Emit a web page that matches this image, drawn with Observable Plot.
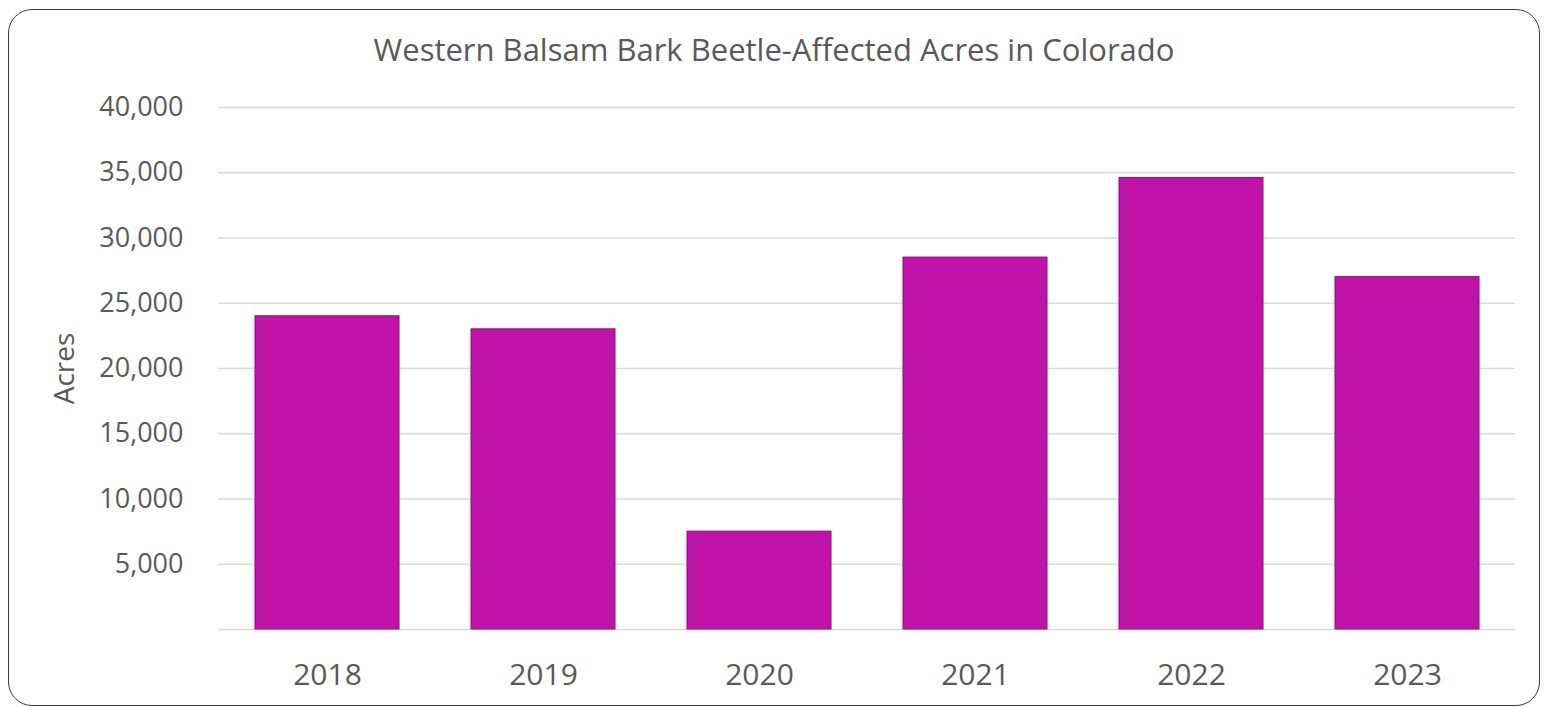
<!DOCTYPE html>
<html>
<head>
<meta charset="utf-8">
<script src="https://cdn.jsdelivr.net/npm/d3@7"></script>
<script src="https://cdn.jsdelivr.net/npm/@observablehq/plot@0.6"></script>
<style>
  html, body { margin: 0; padding: 0; background: #fff; overflow: hidden; }
  #wrap { position: relative; width: 1548px; height: 707px; font-family: "Open Sans", sans-serif; }
  #frame { position: absolute; left: 8px; top: 9px; width: 1532px; height: 697px;
           border: 1.5px solid #3c3c3c; border-radius: 24px; box-sizing: border-box; pointer-events: none; }
  #title { box-sizing: border-box; height: 86px; padding-top: 34px; text-align: center;
           font-size: 31px; line-height: 31px; color: #595959; }
  #chart svg { display: block; }
</style>
</head>
<body>
<div id="wrap">
  <div id="frame"></div>
  <div id="title">Western Balsam Bark Beetle-Affected Acres in Colorado</div>
  <div id="chart"></div>
</div>
<script>
const years = ["2018", "2019", "2020", "2021", "2022", "2023"];
const acres = [24000, 23000, 7500, 28500, 34600, 27000];
const yTicks = [5000, 10000, 15000, 20000, 25000, 30000, 35000, 40000];
const gridValues = [0, 5000, 10000, 15000, 20000, 25000, 30000, 35000, 40000];

const data = years.map((y, i) => ({year: y, value: acres[i]}));

const chart = Plot.plot({
  width: 1548,
  height: 621,
  marginLeft: 218,
  marginRight: 33,
  marginTop: 21,
  marginBottom: 78,
  style: {fontFamily: "Open Sans, sans-serif", color: "#595959", background: "transparent", overflow: "visible"},
  x: {domain: years, paddingInner: 1/3, paddingOuter: 1/6, label: null},
  y: {domain: [0, 40000], label: "Acres"},
  marks: [
    Plot.ruleY(gridValues, {stroke: "#d9d9d9", strokeWidth: 1.5}),
    Plot.barY(data, {x: "year", y: "value", fill: "#c013a8", stroke: "#8a0f78", strokeWidth: 1}),
    Plot.axisY({ticks: yTicks, tickFormat: d3.format(","), tickSize: 0, tickPadding: 35,
                fontSize: 27, fill: "#595959", label: "Acres", labelAnchor: "center",
                labelOffset: 164, labelArrow: "none"}),
    Plot.axisX({tickSize: 0, tickPadding: 34, fontSize: 30, fill: "#595959", label: null})
  ]
});
document.getElementById("chart").appendChild(chart);
chart.querySelectorAll("g[aria-label='y-axis label'] text").forEach(t => t.setAttribute("font-size", "28"));
</script>
</body>
</html>
